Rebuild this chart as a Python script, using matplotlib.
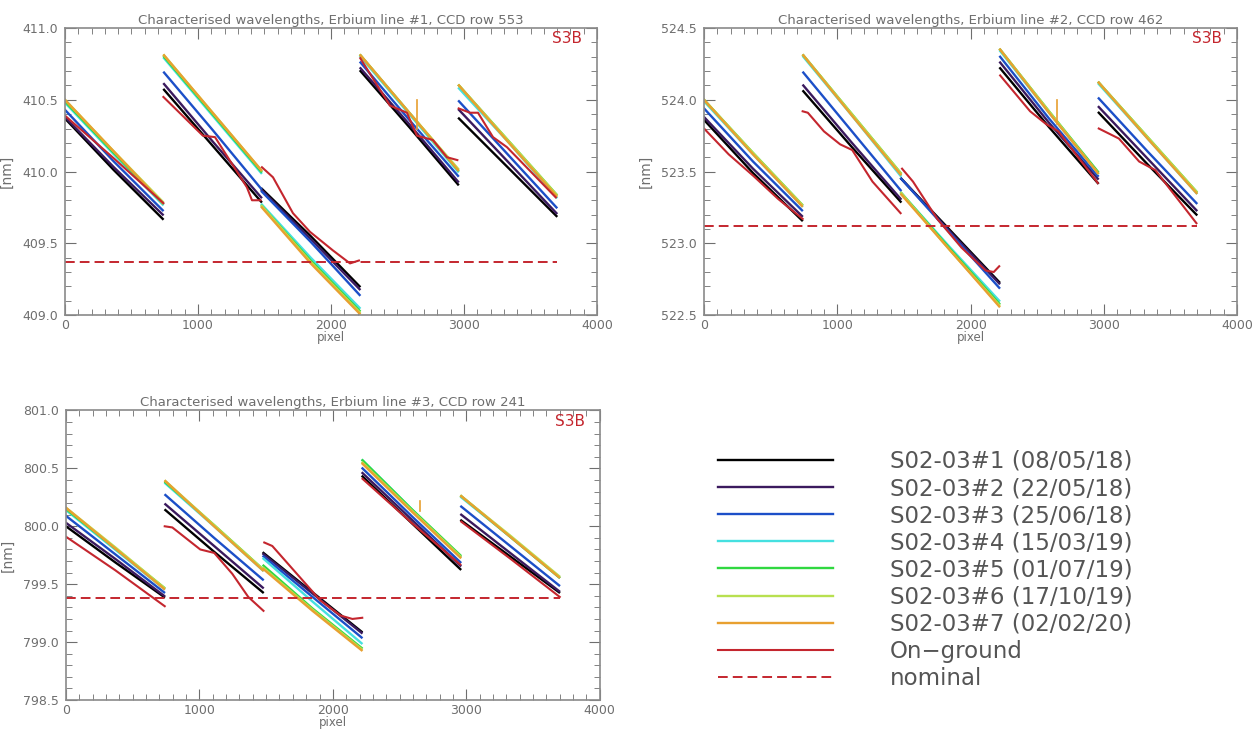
import numpy as np
import matplotlib
matplotlib.use('Agg')
import matplotlib.pyplot as plt
from matplotlib.ticker import MultipleLocator, FormatStrFormatter

# camera segment pixel ranges
seg_start = [0, 745, 1480, 2222, 2962]
seg_end = [735, 1475, 2215, 2955, 3695]

names = ['S02-03#1 (08/05/18)', 'S02-03#2 (22/05/18)', 'S02-03#3 (25/06/18)',
         'S02-03#4 (15/03/19)', 'S02-03#5 (01/07/19)', 'S02-03#6 (17/10/19)',
         'S02-03#7 (02/02/20)']
colors = ['#000000', '#3b1a5e', '#1c4fc8', '#45e0e0', '#30d840', '#b8e050', '#e8a030']
red = '#c4262e'

# values at (start, middle, end) of each of the 5 segments, per campaign
# ---- Erbium line #1 ----
l1_s1 = [[410.37, 410.01, 409.67], [410.57, 410.18, 409.79], [409.88, 409.55, 409.20], [410.70, 410.31, 409.91], [410.37, 410.03, 409.69]]
l1_s2 = [[410.38, 410.03, 409.70], [410.61, 410.21, 409.82], [409.87, 409.53, 409.18], [410.72, 410.33, 409.93], [410.43, 410.07, 409.71]]
l1_s3 = [[410.43, 410.07, 409.73], [410.69, 410.29, 409.88], [409.86, 409.51, 409.14], [410.76, 410.36, 409.97], [410.49, 410.12, 409.75]]
l1_s4 = [[410.48, 410.12, 409.77], [410.79, 410.39, 409.99], [409.77, 409.40, 409.05], [410.80, 410.40, 410.00], [410.58, 410.21, 409.82]]
l1_s5 = [[410.49, 410.13, 409.78], [410.80, 410.40, 410.00], [409.76, 409.38, 409.03], [410.81, 410.41, 410.01], [410.60, 410.22, 409.84]]
l1_s6 = [[410.50, 410.14, 409.79], [410.81, 410.41, 410.01], [409.76, 409.37, 409.02], [410.81, 410.41, 410.02], [410.60, 410.22, 409.84]]
l1_s7 = [[410.50, 410.14, 409.78], [410.81, 410.41, 410.01], [409.75, 409.36, 409.01], [410.81, 410.41, 410.01], [410.60, 410.21, 409.83]]
l1_ground_x = [[0, 370, 740],
               [740, 1037, 1128, 1368, 1406, 1470],
               [1481, 1564, 1714, 1842, 2015, 2143, 2210],
               [2220, 2443, 2571, 2646, 2766, 2871, 2950],
               [2960, 3045, 3105, 3218, 3323, 3690]]
l1_ground_y = [[410.39, 410.09, 409.78],
               [410.52, 410.25, 410.24, 409.89, 409.80, 409.80],
               [410.03, 409.96, 409.71, 409.58, 409.45, 409.36, 409.38],
               [410.79, 410.46, 410.41, 410.25, 410.22, 410.10, 410.08],
               [410.44, 410.41, 410.41, 410.24, 410.17, 409.82]]
l1_spike = [2650, 410.30, 410.50]
l1_nominal = 409.37

# ---- Erbium line #2 ----
l2_s1 = [[523.86, 523.49, 523.16], [524.06, 523.67, 523.29], [523.45, 523.09, 522.73], [524.22, 523.81, 523.42], [523.91, 523.55, 523.20]]
l2_s2 = [[523.88, 523.52, 523.19], [524.10, 523.70, 523.31], [523.45, 523.08, 522.72], [524.26, 523.84, 523.45], [523.95, 523.59, 523.23]]
l2_s3 = [[523.94, 523.57, 523.23], [524.19, 523.78, 523.37], [523.45, 523.07, 522.69], [524.30, 523.87, 523.47], [524.01, 523.64, 523.28]]
l2_s4 = [[523.99, 523.62, 523.26], [524.30, 523.89, 523.47], [523.35, 522.97, 522.60], [524.34, 523.91, 523.49], [524.11, 523.73, 523.35]]
l2_s5 = [[524.00, 523.63, 523.27], [524.31, 523.90, 523.49], [523.35, 522.96, 522.58], [524.35, 523.92, 523.50], [524.12, 523.74, 523.36]]
l2_s6 = [[524.00, 523.63, 523.27], [524.31, 523.90, 523.49], [523.35, 522.95, 522.57], [524.35, 523.92, 523.49], [524.12, 523.74, 523.36]]
l2_s7 = [[524.00, 523.62, 523.26], [524.31, 523.89, 523.48], [523.34, 522.95, 522.56], [524.35, 523.91, 523.49], [524.12, 523.73, 523.35]]
l2_ground_x = [[0, 185, 370, 555, 740],
               [740, 779, 900, 1021, 1112, 1264, 1475],
               [1486, 1568, 1750, 1932, 2114, 2174, 2215],
               [2222, 2447, 2568, 2659, 2955],
               [2962, 3113, 3265, 3386, 3695]]
l2_ground_y = [[523.80, 523.62, 523.47, 523.31, 523.17],
               [523.92, 523.91, 523.78, 523.69, 523.65, 523.43, 523.21],
               [523.52, 523.43, 523.17, 522.97, 522.81, 522.80, 522.84],
               [524.17, 523.92, 523.83, 523.78, 523.42],
               [523.80, 523.73, 523.57, 523.51, 523.14]]
l2_spike = [2650, 523.83, 524.00]
l2_nominal = 523.12

# ---- Erbium line #3 ----
l3_s1 = [[800.00, 799.69, 799.39], [800.14, 799.78, 799.43], [799.77, 799.43, 799.09], [800.43, 800.03, 799.63], [800.05, 799.74, 799.43]]
l3_s2 = [[800.03, 799.72, 799.40], [800.19, 799.83, 799.47], [799.76, 799.42, 799.08], [800.46, 800.06, 799.66], [800.10, 799.77, 799.44]]
l3_s3 = [[800.09, 799.76, 799.43], [800.27, 799.90, 799.54], [799.74, 799.39, 799.04], [800.50, 800.09, 799.69], [800.17, 799.83, 799.49]]
l3_s4 = [[800.14, 799.80, 799.46], [800.37, 800.00, 799.62], [799.72, 799.35, 798.99], [800.57, 800.15, 799.74], [800.25, 799.91, 799.56]]
l3_s5 = [[800.15, 799.81, 799.47], [800.38, 800.01, 799.63], [799.66, 799.29, 798.95], [800.57, 800.15, 799.75], [800.26, 799.91, 799.56]]
l3_s6 = [[800.16, 799.82, 799.47], [800.39, 800.01, 799.63], [799.64, 799.28, 798.94], [800.55, 800.14, 799.74], [800.26, 799.92, 799.57]]
l3_s7 = [[800.16, 799.81, 799.46], [800.39, 800.00, 799.62], [799.63, 799.27, 798.93], [800.54, 800.13, 799.73], [800.26, 799.91, 799.56]]
l3_ground_x = [[0, 370, 740],
               [740, 797, 1006, 1111, 1246, 1366, 1480],
               [1486, 1546, 1906, 2056, 2146, 2220],
               [2222, 2590, 2955],
               [2962, 3330, 3700]]
l3_ground_y = [[799.91, 799.62, 799.31],
               [800.00, 799.99, 799.80, 799.77, 799.59, 799.39, 799.27],
               [799.86, 799.83, 799.36, 799.23, 799.20, 799.21],
               [800.41, 800.03, 799.67],
               [800.04, 799.72, 799.39]]
l3_spike = [2650, 800.13, 800.22]
l3_nominal = 799.38

panels = [
    dict(title='Characterised wavelengths, Erbium line #1, CCD row 553',
         series=[l1_s1, l1_s2, l1_s3, l1_s4, l1_s5, l1_s6, l1_s7],
         gx=l1_ground_x, gy=l1_ground_y, spike=l1_spike, nominal=l1_nominal,
         ylim=(409.0, 411.0), pos=[0.0516, 0.5702, 0.4226, 0.3915]),
    dict(title='Characterised wavelengths, Erbium line #2, CCD row 462',
         series=[l2_s1, l2_s2, l2_s3, l2_s4, l2_s5, l2_s6, l2_s7],
         gx=l2_ground_x, gy=l2_ground_y, spike=l2_spike, nominal=l2_nominal,
         ylim=(522.5, 524.5), pos=[0.5592, 0.5702, 0.4234, 0.3915]),
    dict(title='Characterised wavelengths, Erbium line #3, CCD row 241',
         series=[l3_s1, l3_s2, l3_s3, l3_s4, l3_s5, l3_s6, l3_s7],
         gx=l3_ground_x, gy=l3_ground_y, spike=l3_spike, nominal=l3_nominal,
         ylim=(798.5, 801.0), pos=[0.0524, 0.0450, 0.4240, 0.3950]),
]

grey = '#6e6e6e'
fig = plt.figure(figsize=(12.59, 7.33), dpi=100)

axes = []
for p in panels:
    ax = fig.add_axes(p['pos'])
    axes.append(ax)
    for k, ser in enumerate(p['series']):
        for j in range(5):
            xs = [seg_start[j], (seg_start[j] + seg_end[j]) / 2, seg_end[j]]
            ax.plot(xs, ser[j], color=colors[k], lw=1.7,
                    label=names[k] if j == 0 else None)
    # orange spike
    sx, sy0, sy1 = p['spike']
    ax.plot([sx, sx], [sy0, sy1], color=colors[6], lw=1.2)
    for j in range(5):
        ax.plot(p['gx'][j], p['gy'][j], color=red, lw=1.5,
                label='On\u2212ground' if j == 0 else None)
    ax.plot([0, 3700], [p['nominal'], p['nominal']], color=red, lw=1.4,
            dashes=(5, 2.6), label='nominal')

    ax.set_xlim(0, 4000)
    ax.set_ylim(*p['ylim'])
    ax.xaxis.set_major_locator(MultipleLocator(1000))
    ax.xaxis.set_minor_locator(MultipleLocator(100))
    ax.yaxis.set_major_locator(MultipleLocator(0.5))
    ax.yaxis.set_minor_locator(MultipleLocator(0.1))
    ax.yaxis.set_major_formatter(FormatStrFormatter('%.1f'))
    ax.tick_params(which='both', direction='in', top=True, right=True,
                   colors=grey, labelsize=9, labelcolor=grey)
    ax.tick_params(which='major', length=8)
    ax.tick_params(axis='x', which='major', pad=3)
    ax.tick_params(axis='y', which='major', pad=5)
    ax.tick_params(which='minor', length=4)
    for s in ax.spines.values():
        s.set_color('#8a8a8a')
        s.set_linewidth(1.2)
    ax.set_title(p['title'], color=grey, fontsize=9.5, pad=3)
    ax.set_xlabel('pixel', color=grey, fontsize=8.5, labelpad=-1)
    ax.set_ylabel('[nm]', color=grey, fontsize=10, labelpad=6)
    ax.text(0.972, 0.963, 'S3B', transform=ax.transAxes, color=red,
            fontsize=11, ha='right', va='center')

handles, labels = axes[0].get_legend_handles_labels()
fig.legend(handles, labels, loc='upper left', bbox_to_anchor=(0.5703, 0.3862),
           frameon=False, fontsize=16.5, handlelength=5.0, handletextpad=2.5,
           labelspacing=0.18, borderpad=0, borderaxespad=0, labelcolor='#555555')

fig.savefig('out.png', dpi=100)
